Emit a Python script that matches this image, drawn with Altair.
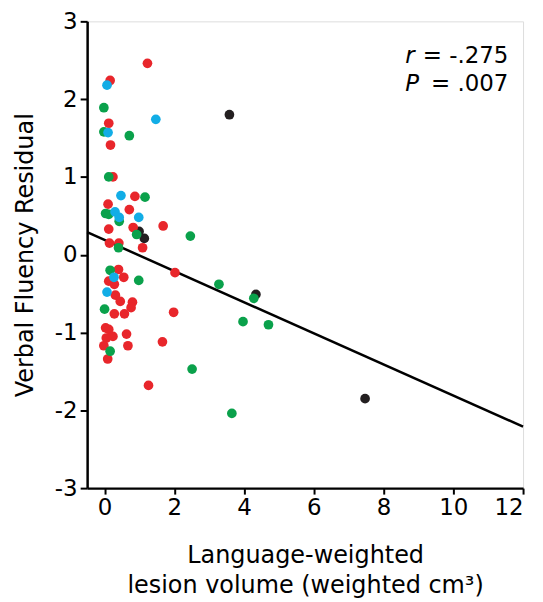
import altair as alt
import pandas as pd

# Lesion volume (x) and verbal fluency residual (y), grouped by dot colour
black_x = [3.58, 0.99, 1.14, 4.34, 7.47]
black_y = [1.80, 0.30, 0.21, -0.51, -1.85]

red_x = [1.23, 0.16, 0.12, 0.17, 0.24, 0.87, 0.10, 0.71, 0.12, 0.82, 1.68, 0.14, 0.41,
         1.09, 0.40, 0.55, 0.12, 0.28, 2.02, 0.31, 0.45, 0.80, 0.76, 0.28, 0.57, 1.98,
         0.03, 0.12, 0.24, 0.05, 0.63, 1.66, -0.02, 0.67, 0.09, 1.26]
red_y = [2.46, 2.24, 1.69, 1.41, 1.00, 0.75, 0.65, 0.58, 0.33, 0.35, 0.37, 0.15, 0.15,
         0.09, -0.19, -0.29, -0.34, -0.38, -0.23, -0.52, -0.60, -0.61, -0.68, -0.76, -0.76, -0.74,
         -0.94, -0.96, -1.05, -1.07, -1.02, -1.12, -1.17, -1.17, -1.34, -1.68]

green_x = [-0.02, -0.02, 0.71, 0.12, 1.16, 0.03, 0.12, 0.42, 0.92, 2.46, 0.40, 0.16,
           0.98, 0.00, 0.16, 2.51, 3.28, 4.28, 3.97, 4.70, 3.65]
green_y = [1.89, 1.58, 1.53, 1.00, 0.74, 0.53, 0.52, 0.43, 0.26, 0.24, 0.09, -0.20,
           -0.33, -0.70, -1.24, -1.47, -0.38, -0.56, -0.86, -0.90, -2.04]

blue_x = [0.07, 1.47, 0.10, 0.47, 0.30, 0.42, 0.98, 0.27, 0.07]
blue_y = [2.18, 1.74, 1.57, 0.76, 0.55, 0.48, 0.48, -0.29, -0.48]

groups = ["black", "red", "green", "blue"]
group_colors = ["#231F20", "#E8262B", "#0AA14B", "#12ADE6"]

# Regression line end points
fit_x = [-0.5, 12]
fit_y = [0.29, -2.21]

x_ticks = [0, 2, 4, 6, 8, 10, 12]
y_ticks = [-3, -2, -1, 0, 1, 2, 3]

stat_letters = ["r", "P"]
stat_values = ["= -.275", "= .007"]

rows = []
for g, xs, ys in [("black", black_x, black_y), ("red", red_x, red_y),
                  ("green", green_x, green_y), ("blue", blue_x, blue_y)]:
    for x, y in zip(xs, ys):
        rows.append({"x": x, "y": y, "group": g})
pts = pd.DataFrame(rows)
pts["order"] = range(len(pts))

line_df = pd.DataFrame({"x": fit_x, "y": fit_y})

FONT = "DejaVu Sans"

xscale = alt.Scale(domain=[-0.5, 12], nice=False, zero=False)
yscale = alt.Scale(domain=[-3, 3], nice=False, zero=False)

xaxis = alt.Axis(values=x_ticks, title=["Language-weighted", "lesion volume (weighted cm³)"],
                 grid=False, tickSize=6, tickWidth=2, tickColor="black",
                 domainColor="black", domainWidth=2.5, labelFontSize=23, labelFont=FONT,
                 labelColor="black", labelPadding=3, labelExpr="'' + datum.value",
                 titleFontSize=24, titleFont=FONT,
                 titleFontWeight="normal", titleColor="black", titlePadding=24,
                 titleLineHeight=30)
yaxis = alt.Axis(values=y_ticks, title="Verbal Fluency Residual", grid=False, tickSize=7,
                 tickWidth=2, tickColor="black", domainColor="black", domainWidth=2.5,
                 labelFontSize=23, labelFont=FONT, labelColor="black", labelPadding=3,
                 labelExpr="'' + datum.value",
                 titleFontSize=24, titleFont=FONT, titleFontWeight="normal",
                 titleColor="black", titlePadding=17)

points = alt.Chart(pts).mark_circle(size=95, opacity=1).encode(
    x=alt.X("x:Q", scale=xscale, axis=xaxis),
    y=alt.Y("y:Q", scale=yscale, axis=yaxis),
    color=alt.Color("group:N", scale=alt.Scale(domain=groups, range=group_colors), legend=None),
    order=alt.Order("order:Q"),
)

fit = alt.Chart(line_df).mark_line(color="black", strokeWidth=2.5).encode(
    x=alt.X("x:Q", scale=xscale),
    y=alt.Y("y:Q", scale=yscale),
)

ann_letters = pd.DataFrame({"x": [8.62, 8.62], "y": [2.47, 2.10], "t": stat_letters})
ann_rest = pd.DataFrame({"x": [11.58, 11.58], "y": [2.47, 2.10], "t": stat_values})

letters = alt.Chart(ann_letters).mark_text(
    align="left", baseline="alphabetic", fontSize=23, font=FONT, fontStyle="italic", color="black"
).encode(x=alt.X("x:Q", scale=xscale), y=alt.Y("y:Q", scale=yscale), text="t:N")

rest = alt.Chart(ann_rest).mark_text(
    align="right", baseline="alphabetic", fontSize=23, font=FONT, color="black"
).encode(x=alt.X("x:Q", scale=xscale), y=alt.Y("y:Q", scale=yscale), text="t:N")

chart = alt.layer(fit, points, letters, rest).properties(
    width=438, height=469,
    autosize=alt.AutoSizeParams(type="none"),
    padding={"left": 79.5, "top": 12, "right": 12, "bottom": 111},
).configure_view(stroke="black", strokeWidth=2.5).configure(background="white")

chart.save("out.html", embed_options={"renderer": "svg", "actions": False})
